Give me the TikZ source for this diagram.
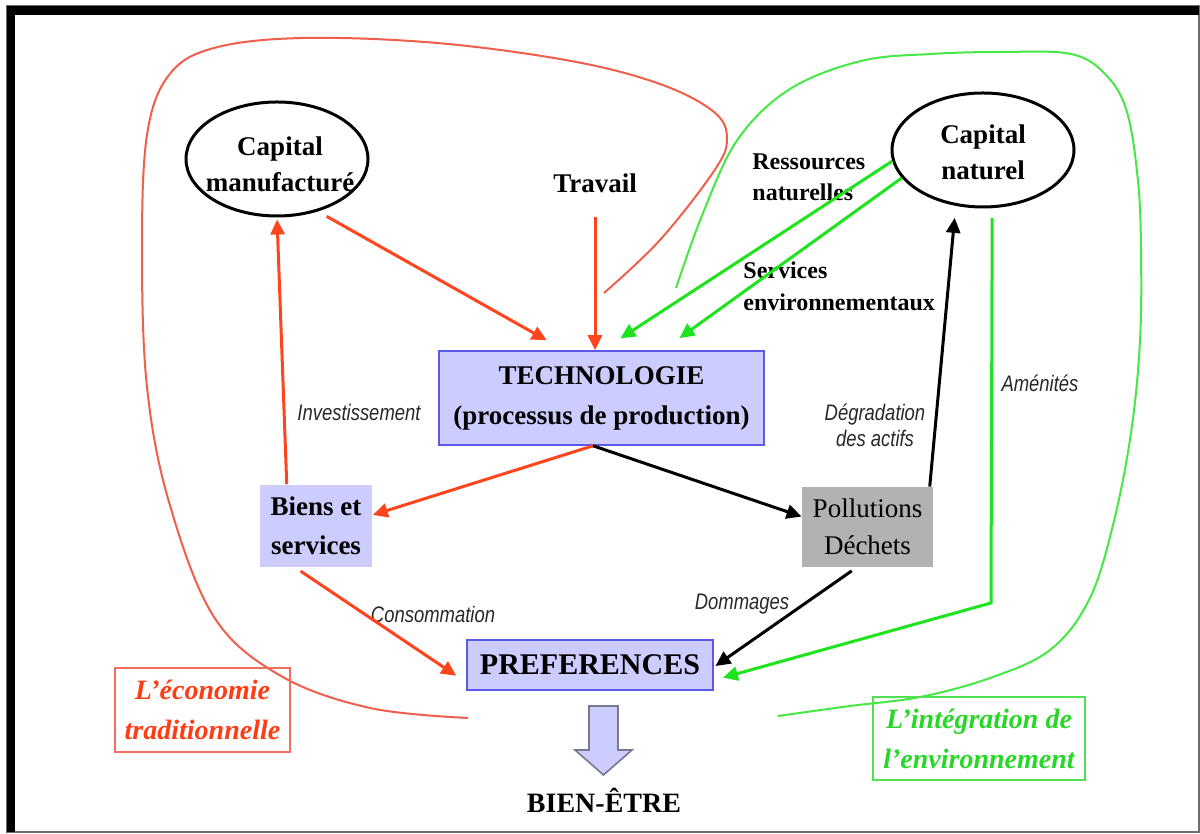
\documentclass[tikz,border=0pt]{standalone}
\usepackage{fontspec}
\setmainfont{Liberation Serif}
\newfontfamily\labelfont[FakeStretch=0.82]{Liberation Sans}
\usetikzlibrary{arrows.meta,shapes.geometric}

\begin{document}
\begin{tikzpicture}[x=0.5pt,y=0.5pt,
  capital/.style={draw=black,line width=1.5pt,ellipse,minimum width=91pt,minimum height=57pt,inner sep=0pt},
  lavbox/.style={fill=boxLav,draw=boxBlue,line width=0.8pt,inner sep=0pt,align=center},
  flux/.style={line width=1.5pt,-{Triangle[length=7.5pt,width=7pt]}},
  redarr/.style={flux,draw=arrRed},
  greenarr/.style={flux,draw=arrGreen},
  blackarr/.style={flux,draw=black},
  boldtext/.style={inner sep=0pt,align=center,font=\bfseries\fontsize{13.5}{18}\selectfont},
  smalltext/.style={inner sep=0pt,align=left,font=\bfseries\fontsize{12}{15.5}\selectfont},
  flowlabel/.style={inner sep=0pt,align=center,text=labelGray,font=\labelfont\itshape\fontsize{11.25}{13}\selectfont},
  tagbox/.style={line width=0.8pt,inner sep=0pt,align=center,font=\bfseries\itshape\fontsize{14}{20}\selectfont}]
\definecolor{boxLav}{RGB}{204,204,255}
\definecolor{boxBlue}{RGB}{90,90,230}
\definecolor{boxGray}{RGB}{178,178,178}
\definecolor{arrRed}{RGB}{255,69,30}
\definecolor{arrGreen}{RGB}{30,228,30}
\definecolor{curveRed}{RGB}{240,95,75}
\definecolor{curveGreen}{RGB}{70,232,70}
\definecolor{labelGray}{RGB}{40,40,40}
\definecolor{ecoText}{RGB}{255,60,20}
\definecolor{ecoLine}{RGB}{242,110,95}
\definecolor{envText}{RGB}{40,215,40}
\definecolor{envLine}{RGB}{80,225,80}
\definecolor{frameGray}{RGB}{110,110,110}
\definecolor{arrowGray}{RGB}{120,120,140}
\path[use as bounding box,fill=white] (0,0) rectangle (1200,834);

\path[draw=frameGray,line width=0.6pt] (7,2) rectangle (1199,828);
\path[fill=black] (7,819) rectangle (1199,827.5);
\path[fill=black] (7,2) rectangle (15,827.5);

\path[draw=curveRed,line width=1pt] plot[smooth,tension=0.6] coordinates {
	(604,541) (660,594) (714,663) (727,695) (714,722) (660,750) (571,773)
	(437,791) (303,796) (214,786) (169,759) (147,699) (142,584) (147,447)
	(169,332) (214,217) (281,158) (370,126) (468,116)};

\path[draw=curveGreen,line width=1pt] plot[smooth,tension=0.6] coordinates {
	(676,546) (703,621) (738,695) (790,745) (861,773) (931,780) (1001,782)
	(1071,780) (1106,759) (1127,722) (1138,653) (1141,584) (1140,493)
	(1131,401) (1113,309) (1089,234) (1050,184) (990,156) (920,137)
	(850,128) (778,118)};

\node[capital] (capm) at (277,675) {};
\node[boldtext] at (280,670) {Capital\\manufacturé};
\node[capital] (capn) at (983,684) {};
\node[boldtext] at (983,682) {Capital\\naturel};
\node[boldtext] (travail) at (595,651) {Travail};
\node[smalltext,anchor=west] (ressources) at (752,657) {Ressources\\naturelles};
\node[smalltext,anchor=west,font=\bfseries\fontsize{12}{16}\selectfont] (services) at (743,548) {Services\\environnementaux};

\node[lavbox,minimum width=162.5pt,minimum height=47pt,font=\bfseries\fontsize{13.5}{20}\selectfont] (tech) at (601.5,436) {TECHNOLOGIE\\(processus de production)};
\node[lavbox,draw=none,minimum width=56pt,minimum height=41pt,font=\bfseries\fontsize{13.5}{19.5}\selectfont] (biens) at (316,308) {Biens et\\services};
\node[fill=boxGray,inner sep=0pt,align=center,minimum width=65.5pt,minimum height=40pt,font=\fontsize{13.5}{18.5}\selectfont] (poll) at (867.5,307) {Pollutions\\Déchets};
\node[lavbox,minimum width=123pt,minimum height=25pt,font=\bfseries\fontsize{15}{18}\selectfont] (pref) at (590,169) {PREFERENCES};
\node[inner sep=0pt,font=\bfseries\fontsize{14}{17}\selectfont] (bienetre) at (604,34) {BIEN-ÊTRE};

\node[tagbox,draw=ecoLine,text=ecoText,minimum width=87.5pt,minimum height=42pt] (eco) at (202.5,124) {L’économie\\traditionnelle};
\node[tagbox,draw=envLine,text=envText,minimum width=106pt,minimum height=41.5pt] (integ) at (979,95.5) {L’intégration de\\l’environnement};

\node[flowlabel] (invest) at (359,422) {Investissement};
\node[flowlabel] (consom) at (433,220) {Consommation};
\node[flowlabel] (dommages) at (742,230) {Dommages};
\node[flowlabel] (degrad) at (875,409) {Dégradation\\des actifs};
\node[flowlabel] (amenites) at (1040,451) {Aménités};

\coordinate (coude) at (991,231);

\draw[redarr,shorten <=5pt,shorten >=10pt] (capm.-52) -- (tech.128.6);
\draw[redarr,shorten <=12pt] (travail.south) -- (travail.south |- tech.north);
\draw[greenarr,shorten >=10.8pt] (capn.187) -- (tech.89.4);
\draw[greenarr,shorten >=10.3pt] (capn.199) -- (tech.38.2);
\draw[redarr,shorten >=1pt] (biens.125.5) -- (capm.south);
\draw[redarr] (tech.-100) -- (biens.11);
\draw[blackarr] (tech.-100) -- (poll.171);
\draw[blackarr,shorten >=6pt] (poll.33) -- (capn.-116);
\draw[blackarr,shorten <=3pt,shorten >=1pt] (poll.-105) -- (pref.-1.5);
\draw[redarr,shorten <=3pt,shorten >=6pt] (biens.-116) -- (pref.188.6);
\draw[greenarr,shorten <=5pt,shorten >=4.7pt] (capn.-81) -- (coude) -- (pref.-7.7);

\path[draw=arrowGray,fill=boxLav,line width=0.8pt] (589,128) -- (618,128) -- (618,84) --
	(632,84) -- (603.5,59) -- (575,84) -- (589,84) -- cycle;
\end{tikzpicture}
\end{document}
